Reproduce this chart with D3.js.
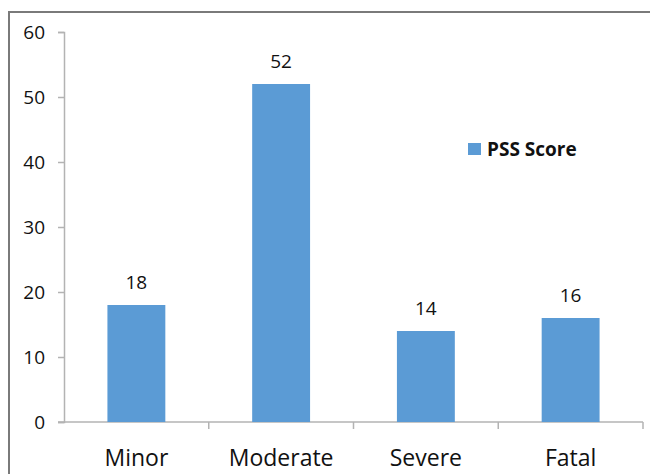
<!DOCTYPE html>
<html>
<head>
<meta charset="utf-8">
<script src="https://cdn.jsdelivr.net/npm/d3@7"></script>
<style>
  body { margin: 0; background: #fff; }
  svg { display: block; font-family: "Open Sans", sans-serif; }
</style>
</head>
<body>
<div id="chart"></div>
<script>
var categories = ["Minor", "Moderate", "Severe", "Fatal"];
var pssScore = [18, 52, 14, 16];
var yTicks = [0, 10, 20, 30, 40, 50, 60];
var seriesName = "PSS Score";

var width = 650, height = 474;
var barColor = "#5b9bd5", axisColor = "#b3b3b3";

var svg = d3.select("#chart").append("svg")
    .attr("width", width)
    .attr("height", height);

// outer frame (runs off the right and bottom edge)
svg.append("rect")
    .attr("x", 9).attr("y", 12)
    .attr("width", 700).attr("height", 500)
    .attr("fill", "none")
    .attr("stroke", "#7a7a7a")
    .attr("stroke-width", 2);

var x = d3.scaleBand().domain(categories).range([64, 643]).padding(0);
var y = d3.scaleLinear().domain([0, 60]).range([422, 32]);

// y axis
var yAxis = svg.append("g")
    .attr("transform", "translate(64,0)")
    .call(d3.axisLeft(y).tickValues(yTicks).tickSize(6).tickPadding(13));
yAxis.select(".domain").attr("stroke", axisColor).attr("stroke-width", 1.5);
yAxis.selectAll(".tick line").attr("stroke", axisColor).attr("stroke-width", 1.5);
yAxis.selectAll("text")
    .attr("font-size", 19)
    .attr("font-family", "Open Sans")
    .attr("fill", "#111");

// x axis line + ticks between categories
var bounds = categories.map(function (c) { return x(c); }).concat([x.range()[1]]);
svg.append("line")
    .attr("x1", 58).attr("x2", 643)
    .attr("y1", y(0)).attr("y2", y(0))
    .attr("stroke", axisColor).attr("stroke-width", 1.5);
svg.selectAll(".xtick")
    .data(bounds.slice(1))
    .enter().append("line")
    .attr("class", "xtick")
    .attr("x1", function (d) { return d; }).attr("x2", function (d) { return d; })
    .attr("y1", y(0)).attr("y2", y(0) + 7)
    .attr("stroke", axisColor).attr("stroke-width", 1.5);

svg.selectAll(".xlabel")
    .data(categories)
    .enter().append("text")
    .attr("class", "xlabel")
    .attr("x", function (d) { return x(d) + x.bandwidth() / 2; })
    .attr("y", 466)
    .attr("text-anchor", "middle")
    .attr("font-size", 23)
    .attr("fill", "#111")
    .text(function (d) { return d; });

// bars
var barW = x.bandwidth() * 0.4;
svg.selectAll(".bar")
    .data(pssScore)
    .enter().append("rect")
    .attr("class", "bar")
    .attr("x", function (d, i) { return x(categories[i]) + (x.bandwidth() - barW) / 2; })
    .attr("y", function (d) { return y(d); })
    .attr("width", barW)
    .attr("height", function (d) { return y(0) - y(d); })
    .attr("fill", barColor);

svg.selectAll(".val")
    .data(pssScore)
    .enter().append("text")
    .attr("class", "val")
    .attr("x", function (d, i) { return x(categories[i]) + x.bandwidth() / 2; })
    .attr("y", function (d) { return y(d) - 16; })
    .attr("text-anchor", "middle")
    .attr("font-size", 19)
    .attr("fill", "#111")
    .text(function (d) { return d; });

// legend
var legend = svg.append("g").attr("transform", "translate(468,143)");
legend.append("rect").attr("width", 13).attr("height", 12).attr("fill", barColor);
legend.append("text")
    .attr("x", 19).attr("y", 13)
    .attr("font-size", 19)
    .attr("font-weight", "bold")
    .attr("fill", "#111")
    .text(seriesName);
</script>
</body>
</html>
